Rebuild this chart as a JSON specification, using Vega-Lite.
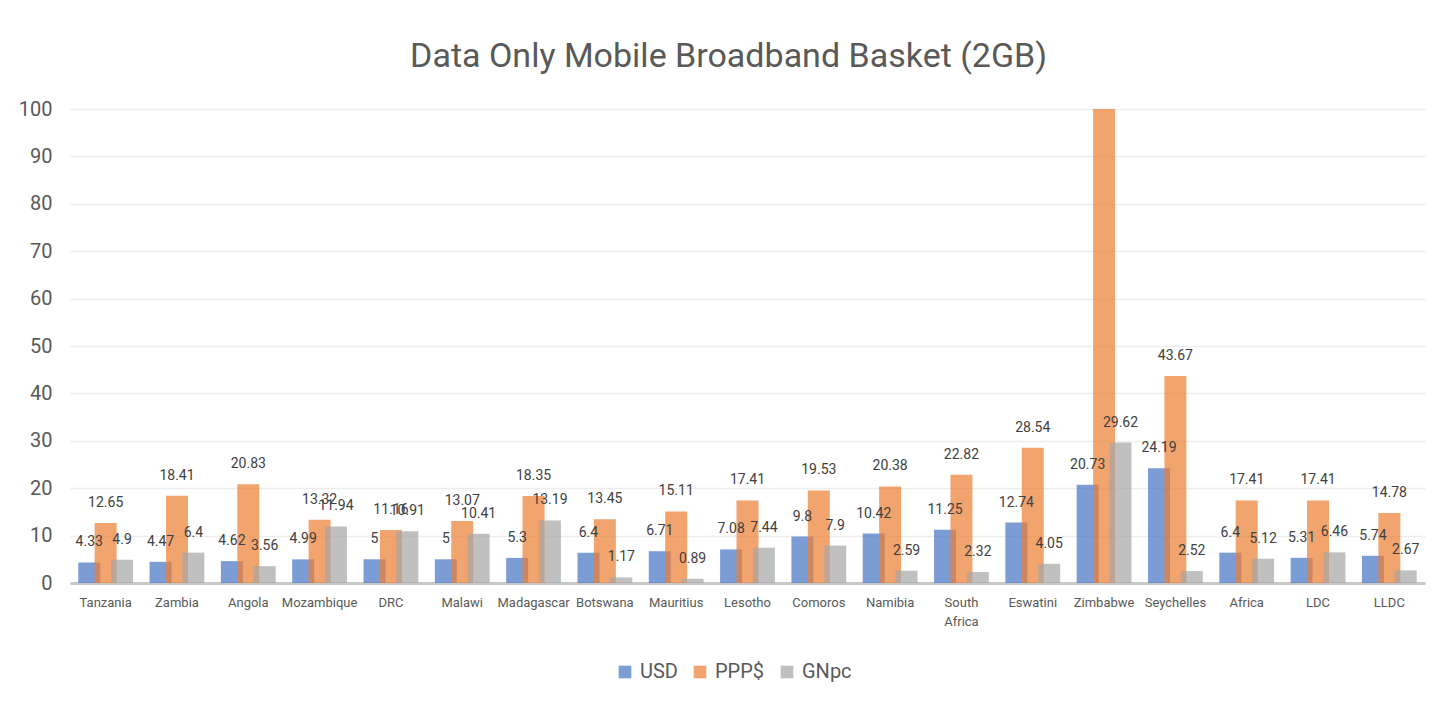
{
  "$schema": "https://vega.github.io/schema/vega-lite/v6.json",
  "width": 1355,
  "height": 474,
  "padding": {"left": 18, "top": 40, "right": 31, "bottom": 10},
  "background": "white",
  "title": {
    "text": "Data Only Mobile Broadband Basket (2GB)",
    "fontSize": 34,
    "font": "Roboto",
    "fontWeight": "normal",
    "color": "#595959",
    "offset": 25,
    "anchor": "middle",
    "frame": "bounds",
    "dx": 7
  },
  "config": {
    "view": {"stroke": null},
    "font": "Roboto"
  },
  "data": {
    "values": [
      {"country": "Tanzania", "series": "USD", "value": 4.33},
      {"country": "Tanzania", "series": "PPP$", "value": 12.65},
      {"country": "Tanzania", "series": "GNpc", "value": 4.9},
      {"country": "Zambia", "series": "USD", "value": 4.47},
      {"country": "Zambia", "series": "PPP$", "value": 18.41},
      {"country": "Zambia", "series": "GNpc", "value": 6.4},
      {"country": "Angola", "series": "USD", "value": 4.62},
      {"country": "Angola", "series": "PPP$", "value": 20.83},
      {"country": "Angola", "series": "GNpc", "value": 3.56},
      {"country": "Mozambique", "series": "USD", "value": 4.99},
      {"country": "Mozambique", "series": "PPP$", "value": 13.32},
      {"country": "Mozambique", "series": "GNpc", "value": 11.94},
      {"country": "DRC", "series": "USD", "value": 5},
      {"country": "DRC", "series": "PPP$", "value": 11.16},
      {"country": "DRC", "series": "GNpc", "value": 10.91},
      {"country": "Malawi", "series": "USD", "value": 5},
      {"country": "Malawi", "series": "PPP$", "value": 13.07},
      {"country": "Malawi", "series": "GNpc", "value": 10.41},
      {"country": "Madagascar", "series": "USD", "value": 5.3},
      {"country": "Madagascar", "series": "PPP$", "value": 18.35},
      {"country": "Madagascar", "series": "GNpc", "value": 13.19},
      {"country": "Botswana", "series": "USD", "value": 6.4},
      {"country": "Botswana", "series": "PPP$", "value": 13.45},
      {"country": "Botswana", "series": "GNpc", "value": 1.17},
      {"country": "Mauritius", "series": "USD", "value": 6.71},
      {"country": "Mauritius", "series": "PPP$", "value": 15.11},
      {"country": "Mauritius", "series": "GNpc", "value": 0.89},
      {"country": "Lesotho", "series": "USD", "value": 7.08},
      {"country": "Lesotho", "series": "PPP$", "value": 17.41},
      {"country": "Lesotho", "series": "GNpc", "value": 7.44},
      {"country": "Comoros", "series": "USD", "value": 9.8},
      {"country": "Comoros", "series": "PPP$", "value": 19.53},
      {"country": "Comoros", "series": "GNpc", "value": 7.9},
      {"country": "Namibia", "series": "USD", "value": 10.42},
      {"country": "Namibia", "series": "PPP$", "value": 20.38},
      {"country": "Namibia", "series": "GNpc", "value": 2.59},
      {"country": "South Africa", "series": "USD", "value": 11.25},
      {"country": "South Africa", "series": "PPP$", "value": 22.82},
      {"country": "South Africa", "series": "GNpc", "value": 2.32},
      {"country": "Eswatini", "series": "USD", "value": 12.74},
      {"country": "Eswatini", "series": "PPP$", "value": 28.54},
      {"country": "Eswatini", "series": "GNpc", "value": 4.05},
      {"country": "Zimbabwe", "series": "USD", "value": 20.73},
      {"country": "Zimbabwe", "series": "PPP$", "value": 110},
      {"country": "Zimbabwe", "series": "GNpc", "value": 29.62},
      {"country": "Seychelles", "series": "USD", "value": 24.19},
      {"country": "Seychelles", "series": "PPP$", "value": 43.67},
      {"country": "Seychelles", "series": "GNpc", "value": 2.52},
      {"country": "Africa", "series": "USD", "value": 6.4},
      {"country": "Africa", "series": "PPP$", "value": 17.41},
      {"country": "Africa", "series": "GNpc", "value": 5.12},
      {"country": "LDC", "series": "USD", "value": 5.31},
      {"country": "LDC", "series": "PPP$", "value": 17.41},
      {"country": "LDC", "series": "GNpc", "value": 6.46},
      {"country": "LLDC", "series": "USD", "value": 5.74},
      {"country": "LLDC", "series": "PPP$", "value": 14.78},
      {"country": "LLDC", "series": "GNpc", "value": 2.67}
    ]
  },
  "encoding": {
    "x": {
      "field": "country",
      "type": "nominal",
      "sort": null,
      "scale": {"paddingInner": 0.31, "paddingOuter": 0.155},
      "axis": {
        "title": null,
        "labelAngle": 0,
        "labelFontSize": 13,
        "labelColor": "#595959",
        "labelPadding": 13,
        "ticks": false,
        "domainColor": "#C8C8C8",
        "domainWidth": 3,
        "labelExpr": "datum.label == 'South Africa' ? ['South', 'Africa'] : datum.label",
        "labelLineHeight": 19
      }
    },
    "xOffset": {
      "field": "series",
      "type": "nominal",
      "sort": ["USD", "PPP$", "GNpc"],
      "scale": {"paddingInner": 0, "paddingOuter": 0}
    },
    "y": {
      "field": "value",
      "type": "quantitative",
      "scale": {"domain": [0, 100], "nice": false},
      "axis": {
        "title": null,
        "values": [0, 10, 20, 30, 40, 50, 60, 70, 80, 90, 100],
        "labelFontSize": 20,
        "labelColor": "#595959",
        "labelPadding": 18,
        "ticks": false,
        "domain": false,
        "gridColor": "#EDEDED",
        "gridWidth": 1.5
      }
    }
  },
  "layer": [
    {
      "mark": {"type": "bar", "width": 22, "opacity": 0.7, "clip": true},
      "encoding": {
        "color": {
          "field": "series",
          "type": "nominal",
          "sort": ["USD", "PPP$", "GNpc"],
          "scale": {"domain": ["USD", "PPP$", "GNpc"], "range": ["#4472C4", "#ED7D31", "#A5A5A5"]},
          "legend": {
            "title": null,
            "orient": "none",
            "legendX": 545,
            "legendY": 553,
            "direction": "horizontal",
            "symbolType": "square",
            "symbolSize": 160,
            "symbolOpacity": 0.7,
            "symbolStrokeWidth": 0,
            "labelFontSize": 20,
            "labelColor": "#595959",
            "columnPadding": 12,
            "labelOffset": 5
          }
        }
      }
    },
    {
      "transform": [{"filter": "datum.value <= 100"}],
      "mark": {"type": "text", "dy": -20, "fontSize": 14, "color": "#404040", "baseline": "middle"},
      "encoding": {
        "text": {"field": "value", "type": "quantitative"}
      }
    }
  ]
}
